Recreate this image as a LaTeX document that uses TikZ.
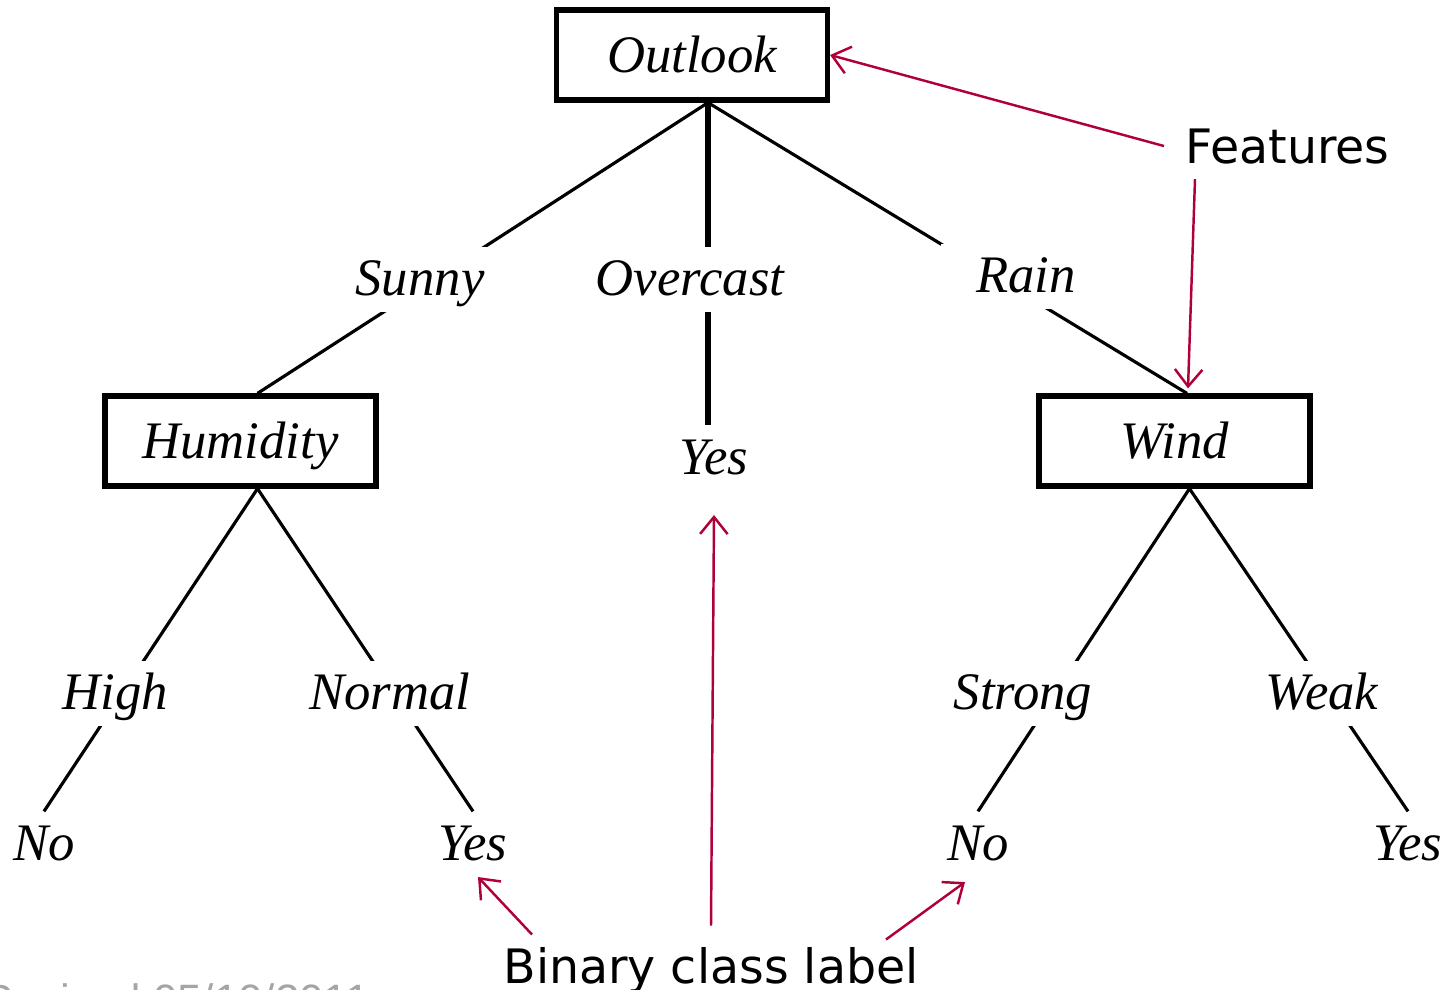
\documentclass[tikz,border=0pt]{standalone}
\usepackage{fontspec}
\setmainfont{Liberation Serif}
\newfontfamily\annofont{DejaVu Sans}
\newfontfamily\datefont{Liberation Sans}
\usetikzlibrary{arrows.meta}
\definecolor{notered}{RGB}{176,0,56}
\definecolor{dategray}{RGB}{165,165,165}

\begin{document}
\begin{tikzpicture}[x = 0.02cm, y = -0.02cm,
    feature/.style = {draw, line width=3pt, minimum width=5.42cm, minimum height=1.8cm,
        font=\fontsize{30}{36}\selectfont\itshape, text height=19.8pt, text depth=0pt},
    value/.style = {fill=white, anchor=base, inner xsep=4pt, inner ysep=2pt, minimum width=3.4cm,
        font=\fontsize{30}{36}\selectfont\itshape, text height=25.5pt, text depth=7.5pt},
    leaf/.style = {anchor=base, inner xsep=4pt, inner ysep=2pt,
        font=\fontsize{30}{36}\selectfont\itshape, text height=25.5pt, text depth=7.5pt},
    branch/.style = {line width=1.8pt},
    note/.style = {font=\annofont\fontsize{27}{32}\selectfont, inner sep=12pt},
    pointer/.style = {->, notered, line width=1.4pt},
    >={Straight Barb[length=3.4mm,width=5.5mm]}]
\useasboundingbox (0,0) rectangle (1453,990);

% feature boxes
\node[feature] (outlook)  at (692,55)    {Outlook};
\node[feature] (humidity) at (240.5,441) {Humidity};
\node[feature] (wind)     at (1174.5,441) {Wind};

% class labels
\node[leaf] (yes0) at (714,474)  {Yes};
\node[leaf] (no1)  at (44,860)   {No};
\node[leaf] (yes1) at (473,860)  {Yes};
\node[leaf] (no2)  at (978,860)  {No};
\node[leaf] (yes2) at (1408,860) {Yes};

\coordinate (outlook-foot)  at ([xshift=0.32cm]outlook.south);
\coordinate (humidity-foot) at ([xshift=0.34cm]humidity.south);
\coordinate (wind-foot)     at ([xshift=0.3cm]wind.south);

% branches
\draw[branch] (outlook-foot) -- ([xshift=0.34cm]humidity.north);
\draw[branch, line width=3.4pt] (outlook-foot) -- (outlook-foot |- yes0.north);
\draw[branch] (outlook-foot) -- ([xshift=0.25cm]wind.north);
\draw[branch] (humidity-foot) -- (no1.north);
\draw[branch] (humidity-foot) -- (yes1.north);
\draw[branch] (wind-foot) -- (no2.north);
\draw[branch] (wind-foot) -- (yes2.north);

% branch values
\node[value] (sunny)    at (420,295)  {Sunny};
\node[value] (overcast) at (690,295)  {Overcast};
\node[value] (rain)     at (1026,292) {Rain};
\node[value] (high)     at (115,709)  {High};
\node[value] (normal)   at (390,709)  {Normal};
\node[value] (strong)   at (1023,709) {Strong};
\node[value] (weak)     at (1322,709) {Weak};

% notes
\node[note, anchor=base west] (features) at (1164,163) {Features};
\node[note, anchor=base] (binary) at (711,983) {Binary class label};

\draw[pointer] (features.west) -- (outlook.east);
\draw[pointer] ([xshift=0.62cm, yshift=0.12cm]features.south west) -- ([xshift=0.27cm, yshift=0.1cm]wind.north);
\draw[pointer] (binary.north) -- ([yshift=-0.48cm]yes0.south);
\draw[pointer] ([xshift=1cm, yshift=-0.18cm]binary.north west) -- ([xshift=0.1cm]yes1.south);
\draw[pointer] ([xshift=-1.08cm, yshift=-0.28cm]binary.north east) -- ([xshift=-0.26cm, yshift=-0.1cm]no2.south);

\node[font=\datefont\fontsize{25}{30}\selectfont, text=dategray, anchor=base east, inner sep=0pt] (revised) at (370,1015) {Revised 05/10/2011};
\end{tikzpicture}
\end{document}
